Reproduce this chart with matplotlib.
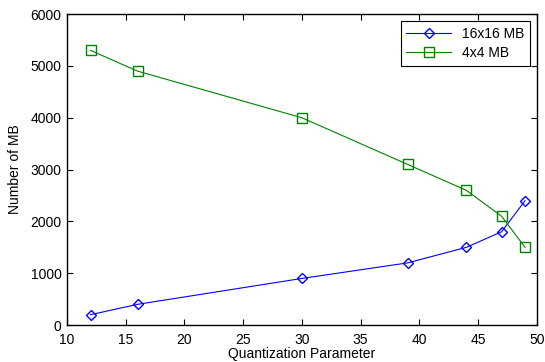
import matplotlib
matplotlib.use("Agg")
import matplotlib.pyplot as plt

qp = [12, 16, 30, 39, 44, 47, 49]
mb16 = [200, 400, 900, 1200, 1500, 1800, 2400]
mb4 = [5300, 4900, 4000, 3100, 2600, 2100, 1500]
xticks = [10, 15, 20, 25, 30, 35, 40, 45, 50]
yticks = [0, 1000, 2000, 3000, 4000, 5000, 6000]

plt.rcParams['font.family'] = ['Liberation Sans', 'DejaVu Sans']
plt.rcParams['font.size'] = 10

fig = plt.figure(figsize=(5.45, 3.62), dpi=100)
ax = fig.add_axes([0.123, 0.102, 0.862, 0.859])
ax.plot(qp, mb16, color='#0000ff', marker='D', markersize=5.5, markerfacecolor='none',
        markeredgecolor='#0000ff', linewidth=0.8, label='16x16 MB')
ax.plot(qp, mb4, color='#008000', marker='s', markersize=7, markerfacecolor='none',
        markeredgecolor='#008000', linewidth=0.8, label='4x4 MB')
ax.set_xlim(10, 50)
ax.set_ylim(0, 6000)
ax.set_xticks(xticks)
ax.set_yticks(yticks)
ax.tick_params(direction='in', top=True, right=True, length=4, width=0.8, labelsize=10, colors='black')
ax.tick_params(axis='x', pad=6)
ax.tick_params(axis='y', pad=4)
for s in ax.spines.values():
    s.set_linewidth(1.0)
ax.set_xlabel('Quantization Parameter', fontsize=10, labelpad=0)
ax.set_ylabel('Number of MB', fontsize=10, labelpad=6)
leg = ax.legend(loc='upper right', fontsize=10, fancybox=False, framealpha=1,
                edgecolor='black', handlelength=3.2, borderaxespad=0.5,
                borderpad=0.4, labelspacing=0.4)
leg.get_frame().set_linewidth(0.8)
fig.savefig('out.png', dpi=100)
